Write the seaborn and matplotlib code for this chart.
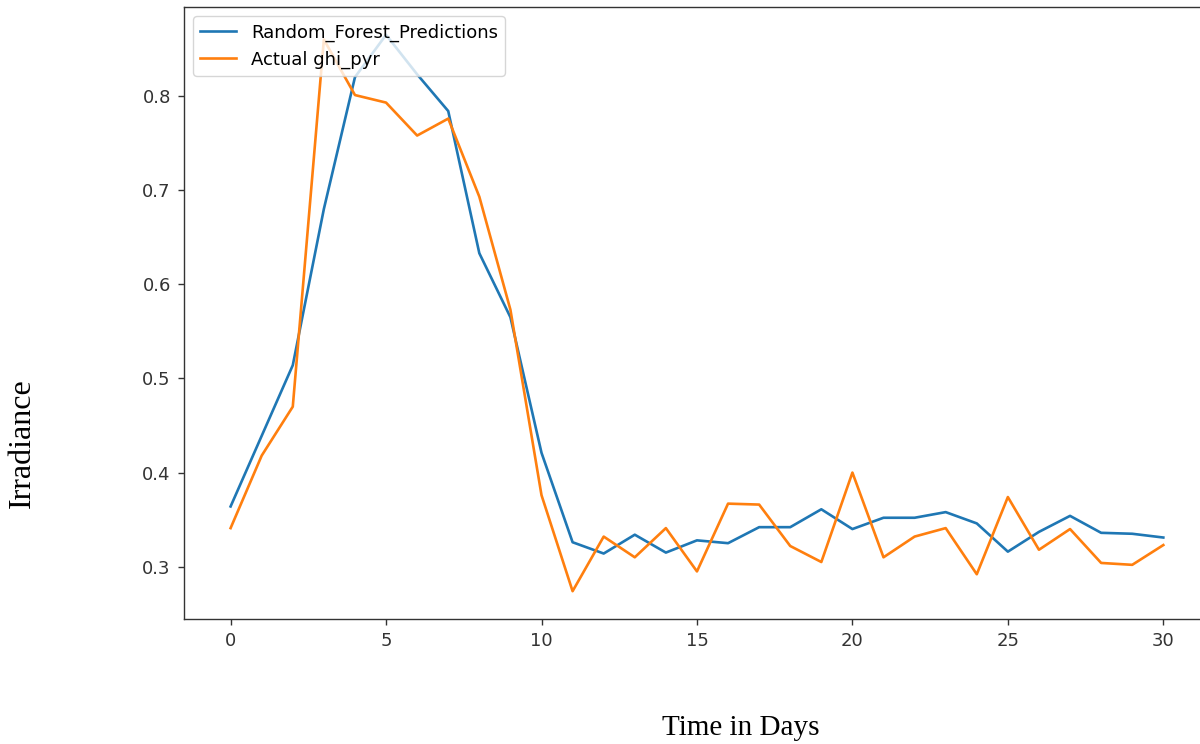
import numpy as np
import pandas as pd
import matplotlib
matplotlib.use("Agg")
import matplotlib.pyplot as plt
import seaborn as sns

# days on the x axis
days = list(range(31))

# Random forest predictions
rf_pred = [0.364, 0.439, 0.514, 0.680, 0.820, 0.865, 0.823, 0.784, 0.633, 0.565,
           0.421, 0.326, 0.314, 0.334, 0.315, 0.328, 0.325, 0.342, 0.342, 0.361,
           0.340, 0.352, 0.352, 0.358, 0.346, 0.316, 0.337, 0.354, 0.336, 0.335,
           0.331]

# measured ghi_pyr
actual = [0.341, 0.418, 0.470, 0.860, 0.801, 0.793, 0.758, 0.776, 0.693, 0.573,
          0.376, 0.274, 0.332, 0.310, 0.341, 0.295, 0.367, 0.366, 0.322, 0.305,
          0.400, 0.310, 0.332, 0.341, 0.292, 0.374, 0.318, 0.340, 0.304, 0.302,
          0.323]

series_names = ["Random_Forest_Predictions", "Actual ghi_pyr"]

df = pd.concat([
    pd.DataFrame({"day": days, "value": rf_pred, "series": series_names[0]}),
    pd.DataFrame({"day": days, "value": actual, "series": series_names[1]}),
])

plt.rcParams['axes.linewidth'] = 1.0
plt.rcParams['axes.edgecolor'] = '#333333'

fig = plt.figure(figsize=(12, 7.44), dpi=100)
# right spine sits just past the edge of the picture in the reference
ax = fig.add_axes([0.1533, 0.168, 0.855, 0.8226])

sns.lineplot(data=df, x="day", y="value", hue="series",
             palette=["#1f77b4", "#ff7f0e"], linewidth=1.9, ax=ax)

ax.set_xticks([0, 5, 10, 15, 20, 25, 30])
ax.tick_params(labelsize=13, length=4.5, width=1.0, pad=5, colors='#333333')
ax.set_xlabel("")
ax.set_ylabel("")
ax.legend(loc="upper left", fontsize=13)

fig.text(0.0185, 0.4046, "Irradiance", rotation=90, ha="center", va="center",
         family="Liberation Serif", fontsize=23)
fig.text(0.6175, 0.021, "Time in Days", ha="center", va="center",
         family="Liberation Serif", fontsize=21)

fig.savefig("out.png", dpi=100)
